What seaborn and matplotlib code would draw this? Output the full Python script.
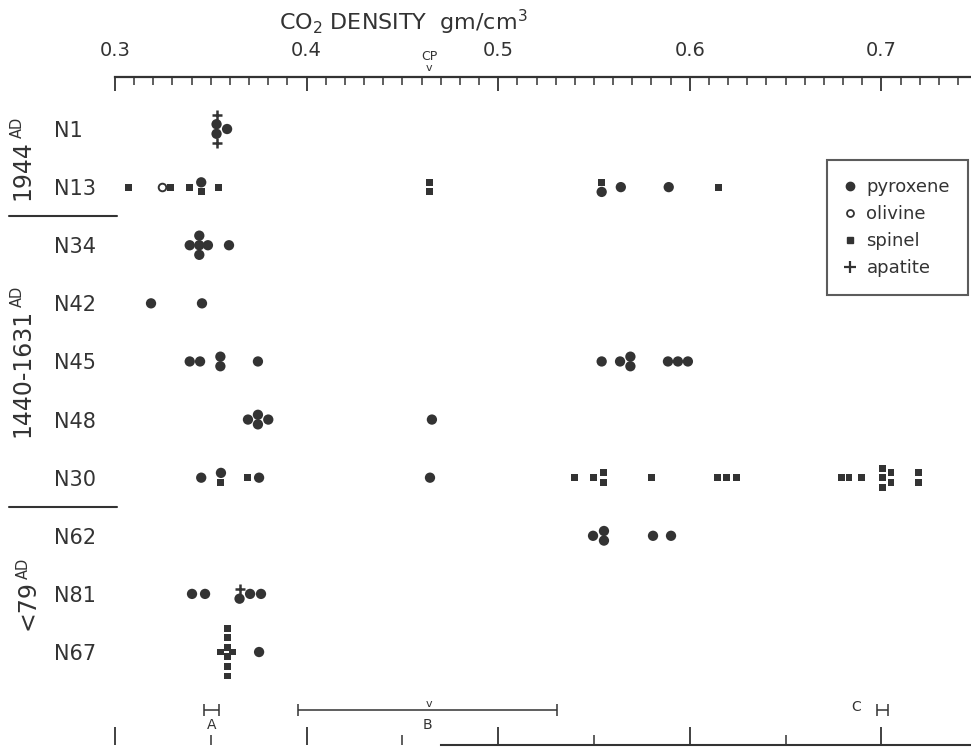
import pandas as pd
import matplotlib
matplotlib.use("Agg")
import matplotlib.pyplot as plt
from matplotlib.lines import Line2D
from matplotlib.transforms import blended_transform_factory
import seaborn as sns

sns.set_theme(style="white", rc={"axes.facecolor": "white", "figure.facecolor": "white"})
plt.rcParams["font.family"] = ["DejaVu Sans"]

INK = "#333333"

# samples, top to bottom
samples = ["N1", "N13", "N34", "N42", "N45", "N48", "N30", "N62", "N81", "N67"]

# CO2 densities (gm/cm3); equal values are stacked vertically
n1 = [0.353, 0.353, 0.353, 0.353, 0.3585]
n1_min = ["apatite", "pyroxene", "pyroxene", "apatite", "pyroxene"]

n13 = [0.307, 0.3245, 0.329, 0.339, 0.345, 0.345, 0.354, 0.464, 0.464,
       0.554, 0.554, 0.564, 0.589, 0.615]
n13_min = ["spinel", "olivine", "spinel", "spinel", "pyroxene", "spinel", "spinel",
           "spinel", "spinel", "spinel", "pyroxene", "pyroxene", "pyroxene", "spinel"]

n34 = [0.339, 0.344, 0.344, 0.344, 0.3485, 0.3595]
n34_min = ["pyroxene"] * 6

n42 = [0.3188, 0.3454]
n42_min = ["pyroxene"] * 2

n45 = [0.339, 0.3444, 0.355, 0.355, 0.3746,
       0.554, 0.5636, 0.569, 0.569, 0.5886, 0.5938, 0.599]
n45_min = ["pyroxene"] * 12

n48 = [0.3694, 0.3746, 0.3746, 0.380, 0.4654]
n48_min = ["pyroxene"] * 5

n30 = [0.345, 0.3553, 0.3553, 0.3694, 0.3752, 0.4644,
       0.5396, 0.5495, 0.5552, 0.5552, 0.580, 0.6147, 0.6194, 0.6246,
       0.6794, 0.6831, 0.6894, 0.7008, 0.7008, 0.7008, 0.705, 0.705, 0.7196, 0.7196]
n30_min = ["pyroxene", "pyroxene", "spinel", "spinel", "pyroxene", "pyroxene"] + ["spinel"] * 18

n62 = [0.5495, 0.5552, 0.5552, 0.5808, 0.5902]
n62_min = ["pyroxene"] * 5

n81 = [0.3402, 0.347, 0.365, 0.365, 0.3705, 0.3762]
n81_min = ["pyroxene", "pyroxene", "apatite", "pyroxene", "pyroxene", "pyroxene"]

n67 = [0.3553, 0.3585, 0.3585, 0.3585, 0.3585, 0.3585, 0.3585, 0.3615, 0.3752]
n67_min = ["spinel"] * 8 + ["pyroxene"]

# eruption periods and the samples in each
periods = ["1944", "1440-1631", "<79"]
period_samples = [["N1", "N13"],
                  ["N34", "N42", "N45", "N48", "N30"],
                  ["N62", "N81", "N67"]]

# density ranges marked under the data, and the critical point
range_labels = ["A", "B", "C"]
range_lo = [0.3465, 0.3955, 0.6977]
range_hi = [0.3543, 0.5307, 0.7034]
cp_density = 0.464

xticks = [0.3, 0.4, 0.5, 0.6, 0.7]
xtick_labels = ["0.3", "0.4", "0.5", "0.6", "0.7"]

minerals = ["pyroxene", "olivine", "spinel", "apatite"]

# build long table
all_vals = [n1, n13, n34, n42, n45, n48, n30, n62, n81, n67]
all_mins = [n1_min, n13_min, n34_min, n42_min, n45_min, n48_min, n30_min, n62_min, n81_min, n67_min]
rows = []
for i, (s, vals, mins) in enumerate(zip(samples, all_vals, all_mins)):
    for v, m in zip(vals, mins):
        rows.append({"sample": s, "row": i, "density": v, "mineral": m})
df = pd.DataFrame(rows)

# stack points with equal density around the sample row
step = 0.165
grp = df.groupby(["sample", "density"])
df["k"] = grp.cumcount()
df["n"] = grp["density"].transform("size")
df["y"] = df["row"] + (df["k"] - (df["n"] - 1) / 2) * step

fig = plt.figure(figsize=(9.71, 7.47), dpi=100)
ax = fig.add_axes([115 / 971, 2 / 747, 856 / 971, 668 / 747])

styles = {
    "pyroxene": dict(marker="o", s=55, color=INK, edgecolor="none"),
    "olivine": dict(marker="o", s=30, color="white", edgecolor=INK, linewidth=1.4),
    "spinel": dict(marker="s", s=25, color=INK, edgecolor="none"),
    "apatite": dict(marker="+", s=45, color=INK, linewidth=1.8),
}
for m in minerals:
    sub = df[df["mineral"] == m]
    sns.scatterplot(data=sub, x="density", y="y", ax=ax, legend=False, zorder=3, **styles[m])

ax.set_xlim(0.3, 0.3 + 856 / 1916)
ax.set_ylim(10.6, -0.895)
ax.set_xlabel("")
ax.set_ylabel("")

# top density axis
for side in ["left", "right", "bottom"]:
    ax.spines[side].set_visible(False)
ax.spines["top"].set_linewidth(1.6)
ax.spines["top"].set_color(INK)
ax.xaxis.set_ticks_position("top")
ax.set_xticks(xticks)
ax.set_xticklabels(xtick_labels)
ax.set_xticks([round(0.3 + 0.01 * i, 2) for i in range(45)], minor=True)
ax.tick_params(axis="x", which="major", direction="in", top=True, bottom=False,
               labeltop=True, labelbottom=False, length=10, width=1.3, color=INK,
               labelsize=14, labelcolor=INK, pad=12)
ax.tick_params(axis="x", which="minor", direction="in", top=True, bottom=False,
               length=5.5, width=1.1, color=INK)

# bottom axis, ticks every 0.05
sec = ax.secondary_xaxis("bottom")
sec.set_xticks(xticks)
sec.set_xticklabels([""] * len(xticks))
sec.set_xticks([0.35, 0.45, 0.55, 0.65], minor=True)
sec.tick_params(axis="x", which="major", direction="in", length=13, width=1.3, color=INK)
sec.tick_params(axis="x", which="minor", direction="in", length=7, width=1.1, color=INK)
sec.spines["bottom"].set_bounds(0.47, 0.3 + 856 / 1916)
sec.spines["bottom"].set_linewidth(1.5)
sec.spines["bottom"].set_color(INK)

# sample labels
ax.set_yticks(range(len(samples)))
ax.set_yticklabels(samples, ha="left")
ax.tick_params(axis="y", length=0, pad=44, labelsize=15, labelcolor=INK)

# period labels (year + small "AD"), read bottom to top, and separators
tr = blended_transform_factory(ax.transAxes, ax.transData)
fig.canvas.draw()
renderer = fig.canvas.get_renderer()
for k, (p, ss) in enumerate(zip(periods, period_samples)):
    r = [samples.index(s) for s in ss]
    yc = sum(r) / len(r)
    xl = -0.1227 if k < 2 else -0.116
    t1 = ax.annotate(p, xy=(xl, yc), xycoords=tr, textcoords="offset pixels", xytext=(0, 0),
                     rotation=90, rotation_mode="anchor", ha="left", va="top",
                     fontsize=17, color=INK, annotation_clip=False)
    t2 = ax.annotate("AD", xy=(xl, yc), xycoords=tr, textcoords="offset pixels", xytext=(0, 0),
                     rotation=90, rotation_mode="anchor", ha="left", va="top",
                     fontsize=10.5, color=INK, annotation_clip=False)
    h1 = t1.get_window_extent(renderer).height
    h2 = t2.get_window_extent(renderer).height
    total = h1 + h2 + 2
    t1.xyann = (0, -total / 2)
    t2.xyann = (0, -total / 2 + h1 + 2)
    if k > 0:
        ax.plot([-0.124, 0.002], [min(r) - 0.5, min(r) - 0.5], transform=tr,
                clip_on=False, color=INK, lw=1.5)

# title and critical point mark
fig.text(403 / 971, 1 - 22 / 747, r"CO$_{\mathregular{2}}$ DENSITY  gm/cm$^{\mathregular{3}}$",
         ha="center", va="center", fontsize=16, color=INK)
trx = blended_transform_factory(ax.transData, ax.transAxes)
ax.text(cp_density, 1.031, "CP", ha="center", va="center", fontsize=9, color=INK, transform=trx)
ax.text(cp_density, 1.014, "v", ha="center", va="center", fontsize=8, color=INK, transform=trx)

# density ranges A, B, C
bar_row = len(samples)
mids = [(lo + hi) / 2 for lo, hi in zip(range_lo, range_hi)]
halves = [(hi - lo) / 2 for lo, hi in zip(range_lo, range_hi)]
ax.errorbar(mids, [bar_row] * 3, xerr=halves, fmt="none", ecolor=INK,
            elinewidth=1.1, capsize=4, capthick=1.1, clip_on=False)
for lab, lo, mid in zip(range_labels, range_lo, mids):
    if lab == "C":
        ax.text(lo - 0.011, bar_row - 0.05, lab, ha="center", va="center", fontsize=10, color=INK)
    else:
        ax.text(mid, bar_row + 0.25, lab, ha="center", va="center", fontsize=10, color=INK)
ax.text(cp_density, bar_row - 0.1, "v", ha="center", va="center", fontsize=8, color=INK)

# legend
handles = [
    Line2D([], [], ls="", marker="o", color=INK, markersize=6),
    Line2D([], [], ls="", marker="o", mfc="white", mec=INK, mew=1.3, markersize=5),
    Line2D([], [], ls="", marker="s", color=INK, markersize=4.5),
    Line2D([], [], ls="", marker="+", color=INK, mew=1.6, markersize=8),
]
leg = ax.legend(handles, minerals, loc="upper right", bbox_to_anchor=(0.9965, 0.876),
                frameon=True, fancybox=False, fontsize=13, labelspacing=0.5,
                handlelength=0.6, handletextpad=0.6, borderpad=1.0, borderaxespad=0)
leg.get_frame().set_edgecolor(INK)
leg.get_frame().set_linewidth(1.5)
for t in leg.get_texts():
    t.set_color(INK)

fig.savefig("out.png", dpi=100)
